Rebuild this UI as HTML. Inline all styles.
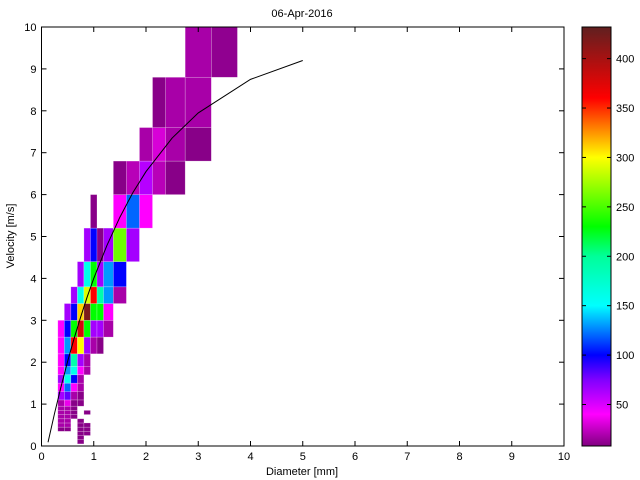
<!DOCTYPE html>
<html><head><meta charset="utf-8"><style>
body{margin:0;background:#fff;}
svg{display:block;font-family:"Liberation Sans",sans-serif;}
</style></head><body>
<svg id="chart" width="640" height="480" viewBox="0 0 640 480" xmlns="http://www.w3.org/2000/svg">
<rect width="640" height="480" fill="#fff"/>
<text x="302" y="17" font-size="11" text-anchor="middle">06-Apr-2016</text>
<g id="cells"></g>
<polyline id="fit" fill="none" stroke="#000" stroke-width="1"/>
<g id="axes"></g>
<text x="302" y="475" font-size="11" text-anchor="middle">Diameter [mm]</text>
<text x="14" y="236" font-size="11" text-anchor="middle" transform="rotate(-90 14 236)">Velocity [m/s]</text>
<defs><linearGradient id="cg" x1="0" y1="1" x2="0" y2="0"></linearGradient></defs>
<rect id="cbar" x="582" y="27" width="29" height="419" fill="url(#cg)" stroke="#000" stroke-width="1"/>
<g id="cbaxis"></g>
</svg>
<script>
// bin edges (pcolor vertices)
const dEdges = [0.062,0.187,0.312,0.437,0.562,0.687,0.812,0.937,1.062,1.187,1.375,1.625,1.875,2.125,2.375,2.75,3.25,3.75,4.25];
const vEdges = [0.05,0.15,0.25,0.35,0.45,0.55,0.65,0.75,0.85,0.95,1.1,1.3,1.5,1.7,1.9,2.2,2.6,3.0,3.4,3.8,4.4,5.2,6.0,6.8,7.6,8.8,10.4];
// counts: rows = velocity bins, columns = diameter bins (0 = empty)
const counts = [
[0,0,0,0,0,10,0,0,0,0,0,0,0,0,0,0,0,0],
[0,0,0,0,0,10,0,0,0,0,0,0,0,0,0,0,0,0],
[0,0,0,0,0,10,10,0,0,0,0,0,0,0,0,0,0,0],
[0,0,10,10,0,10,10,0,0,0,0,0,0,0,0,0,0,0],
[0,0,18,18,0,10,10,0,0,0,0,0,0,0,0,0,0,0],
[0,0,18,18,0,10,0,0,0,0,0,0,0,0,0,0,0,0],
[0,0,18,18,10,0,0,0,0,0,0,0,0,0,0,0,0,0],
[0,0,18,18,10,0,10,0,0,0,0,0,0,0,0,0,0,0],
[0,0,18,18,10,0,0,0,0,0,0,0,0,0,0,0,0,0],
[0,0,18,35,10,10,0,0,0,0,0,0,0,0,0,0,0,0],
[0,0,65,80,18,10,0,0,0,0,0,0,0,0,0,0,0,0],
[0,0,40,120,40,18,0,0,0,0,0,0,0,0,0,0,0,0],
[0,0,65,160,100,18,0,0,0,0,0,0,0,0,0,0,0,0],
[0,0,40,130,160,40,18,0,0,0,0,0,0,0,0,0,0,0],
[0,0,40,100,190,65,18,0,0,0,0,0,0,0,0,0,0,0],
[0,0,40,130,360,300,65,18,10,0,0,0,0,0,0,0,0,0],
[0,0,40,100,230,380,230,65,65,18,0,0,0,0,0,0,0,0],
[0,0,0,65,100,310,420,230,230,40,0,0,0,0,0,0,0,0],
[0,0,0,0,65,160,290,360,190,130,18,0,0,0,0,0,0,0],
[0,0,0,0,0,65,160,230,65,130,100,0,0,0,0,0,0,0],
[0,0,0,0,0,0,65,100,10,65,260,65,0,0,0,0,0,0],
[0,0,0,0,0,0,0,10,0,0,40,120,40,0,0,0,0,0],
[0,0,0,0,0,0,0,0,0,0,10,22,60,22,10,0,0,0],
[0,0,0,0,0,0,0,0,0,0,0,0,18,30,18,10,0,0],
[0,0,0,0,0,0,0,0,0,0,0,0,0,10,18,18,0,0],
[0,0,0,0,0,0,0,0,0,0,0,0,0,0,0,18,12,0]
];
const fitD = [0.125,0.25,0.375,0.5,0.625,0.75,0.875,1.0,1.25,1.5,1.75,2.0,2.5,3.0,4.0,5.0];
const fitV = [0.09,0.78,1.42,2.02,2.57,3.08,3.56,4.00,4.78,5.46,6.05,6.55,7.35,7.95,8.75,9.2];
const xTicks = [0,1,2,3,4,5,6,7,8,9,10];
const yTicks = [0,1,2,3,4,5,6,7,8,9,10];
const cTicks = [50,100,150,200,250,300,350,400];
const cMin = 8, cMax = 432;
const cmapVals = [8,40,75,100,150,200,230,300,360,432];
const cmapCols = ["#800080","#ff00ff","#8000ff","#0000ff","#00ffff","#00ff99","#00ff00","#ffff00","#ff0000","#602020"];

const X0=41.5, X1=564, Y0=446, Y1=27;
const xs = d => X0 + d/10*(X1-X0);
const ys = v => Y0 - v/10*(Y0-Y1);
const cs = c => Y0 - (c-cMin)/(cMax-cMin)*(Y0-Y1);
const NS="http://www.w3.org/2000/svg";
function hex(h){return [1,3,5].map(i=>parseInt(h.substr(i,2),16));}
function color(v){
  if(v<=cmapVals[0]) return cmapCols[0];
  for(let i=1;i<cmapVals.length;i++){
    if(v<=cmapVals[i]){
      const t=(v-cmapVals[i-1])/(cmapVals[i]-cmapVals[i-1]);
      const a=hex(cmapCols[i-1]), b=hex(cmapCols[i]);
      return "rgb("+a.map((x,k)=>Math.round(x+(b[k]-x)*t)).join(",")+")";
    }
  }
  return cmapCols[cmapCols.length-1];
}
const g=document.getElementById('cells');
for(let r=0;r<counts.length;r++){
  for(let c=0;c<counts[r].length;c++){
    const val=counts[r][c];
    if(!val) continue;
    const x0=xs(dEdges[c]), x1=xs(dEdges[c+1]);
    const yt=ys(Math.min(vEdges[r+1],10)), yb=ys(vEdges[r]);
    const el=document.createElementNS(NS,'rect');
    
    
    el.setAttribute('x',x0);el.setAttribute('y',yt);
    el.setAttribute('width',x1-x0);el.setAttribute('height',yb-yt);
    el.setAttribute('fill',color(val));
    el.setAttribute('stroke','rgba(255,255,255,0.35)');
    el.setAttribute('stroke-width','0.6');
    g.appendChild(el);
  }
}
document.getElementById('fit').setAttribute('points', fitD.map((d,i)=>xs(d)+","+ys(fitV[i])).join(" "));
const ax=document.getElementById('axes');
function line(p,x1,y1,x2,y2){const l=document.createElementNS(NS,'line');l.setAttribute('x1',x1);l.setAttribute('y1',y1);l.setAttribute('x2',x2);l.setAttribute('y2',y2);l.setAttribute('stroke','#000');l.setAttribute('stroke-width','1');p.appendChild(l);return l;}
function text(p,x,y,s,anchor){const t=document.createElementNS(NS,'text');t.setAttribute('x',x);t.setAttribute('y',y);t.setAttribute('font-size','11');t.setAttribute('text-anchor',anchor);t.textContent=s;p.appendChild(t);return t;}
const frame=document.createElementNS(NS,'rect');


frame.setAttribute('x',X0);frame.setAttribute('y',Y1);frame.setAttribute('width',X1-X0);frame.setAttribute('height',Y0-Y1);
frame.setAttribute('fill','none');frame.setAttribute('stroke','#000');
ax.appendChild(frame);
xTicks.forEach(t=>{
  const x=xs(t);
  line(ax,x,Y0,x,Y0-5); line(ax,x,Y1,x,Y1+5);
  const lb=text(ax,x,Y0+14,String(t),'middle');
  
  
});
yTicks.forEach(t=>{
  const y=ys(t);
  line(ax,X0,y,X0+5,y); line(ax,X1,y,X1-5,y);
  const lb=text(ax,X0-5,y+4,String(t),'end');
  
  
});
const grad=document.getElementById('cg');
cmapVals.forEach((v,i)=>{const s=document.createElementNS(NS,'stop');s.setAttribute('offset',((v-cMin)/(cMax-cMin)));s.setAttribute('stop-color',cmapCols[i]);grad.appendChild(s);});
const cb=document.getElementById('cbaxis');
cTicks.forEach(t=>{
  const y=cs(t);
  line(cb,582,y,586,y); line(cb,611,y,607,y);
  const lb=text(cb,616,y+4,String(t),'start');
  
  
});
</script>
</body></html>
